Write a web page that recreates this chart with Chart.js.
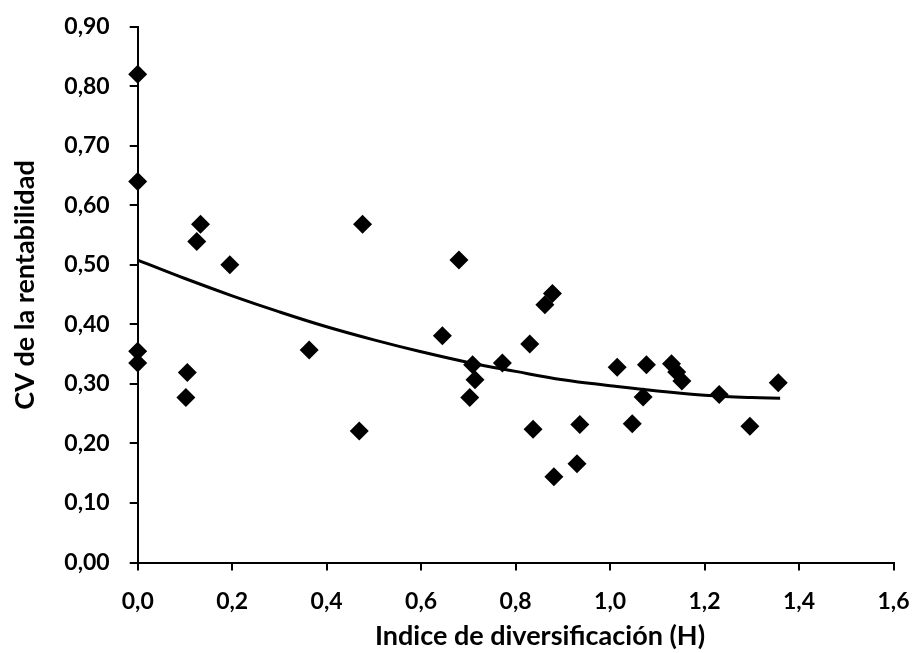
<!DOCTYPE html>
<html>
<head>
<meta charset="utf-8">
<script src="https://cdn.jsdelivr.net/npm/chart.js@4.4.0/dist/chart.umd.min.js"></script>
<style>
  html, body { margin: 0; padding: 0; background: #ffffff; }
  #wrap { width: 913px; height: 653px; position: relative; }
</style>
</head>
<body>
<div id="wrap"><canvas id="c" width="913" height="653"></canvas></div>
<script>
// Scatter observations: diversification index (H) and CV of profitability
const diversificationH = [0.000, 0.000, 0.000, 0.000, 0.105, 0.102, 0.125, 0.133, 0.195, 0.363, 0.469, 0.476,
  0.645, 0.680, 0.703, 0.709, 0.714, 0.772, 0.830, 0.837, 0.862, 0.878, 0.881, 0.930, 0.936,
  1.015, 1.047, 1.070, 1.077, 1.130, 1.141, 1.152, 1.231, 1.296, 1.356];
const cvRentabilidad = [0.820, 0.640, 0.355, 0.335, 0.319, 0.277, 0.539, 0.568, 0.500, 0.357, 0.221, 0.568,
  0.381, 0.508, 0.277, 0.332, 0.307, 0.335, 0.367, 0.224, 0.433, 0.452, 0.144, 0.166, 0.232,
  0.328, 0.233, 0.278, 0.332, 0.334, 0.320, 0.305, 0.282, 0.229, 0.302];

// Trend line
const trendX = [0.00, 0.10, 0.20, 0.30, 0.40, 0.50, 0.60, 0.70, 0.80, 0.90, 1.00, 1.10, 1.20, 1.30, 1.36];
const trendY = [0.508, 0.477, 0.448, 0.421, 0.396, 0.374, 0.354, 0.336, 0.321, 0.307, 0.297, 0.288, 0.281, 0.277, 0.276];

const xTickValues = [0, 0.2, 0.4, 0.6, 0.8, 1.0, 1.2, 1.4, 1.6];
const yTickValues = [0, 0.1, 0.2, 0.3, 0.4, 0.5, 0.6, 0.7, 0.8, 0.9];

const xTitle = 'Indice de diversificación (H)';
const yTitle = 'CV de la rentabilidad';

const FONT = 'Lato, "Open Sans", sans-serif';

const points = diversificationH.map((x, i) => ({ x: x, y: cvRentabilidad[i] }));
const trend = trendX.map((x, i) => ({ x: x, y: trendY[i] }));

// Axis titles placed like the original (slightly off the plot centre)
const axisTitles = {
  id: 'axisTitles',
  afterDraw(chart) {
    const ctx = chart.ctx;
    ctx.save();
    ctx.fillStyle = '#000000';
    ctx.font = 'bold 27px ' + FONT;
    ctx.textAlign = 'center';
    ctx.textBaseline = 'middle';
    ctx.fillText(xTitle, 540, 636);
    ctx.translate(25, 285);
    ctx.rotate(-Math.PI / 2);
    ctx.fillText(yTitle, 0, 0);
    ctx.restore();
  }
};

new Chart(document.getElementById('c'), {
  type: 'scatter',
  data: {
    datasets: [
      {
        label: 'Trend',
        type: 'line',
        data: trend,
        borderColor: '#000000',
        borderWidth: 3,
        pointRadius: 0,
        tension: 0.4,
        fill: false,
        clip: false,
        order: 2
      },
      {
        label: 'CV',
        data: points,
        pointStyle: 'rectRot',
        pointRadius: 9.5,
        pointHoverRadius: 9.5,
        backgroundColor: '#000000',
        borderColor: '#000000',
        borderWidth: 0,
        clip: false,
        order: 1
      }
    ]
  },
  plugins: [axisTitles],
  options: {
    responsive: false,
    animation: false,
    events: [],
    layout: { padding: { left: 0, right: 19.5, top: 26.7, bottom: 0 } },
    plugins: { legend: { display: false }, tooltip: { enabled: false } },
    scales: {
      x: {
        type: 'linear',
        min: 0, max: 1.6,
        afterBuildTicks: (s) => { s.ticks = xTickValues.map(v => ({ value: v })); },
        afterFit: (s) => { s.height = 90.5; s.paddingLeft = 0; s.paddingRight = 0; },
        border: { display: true, color: '#000000', width: 2 },
        grid: { display: true, drawOnChartArea: false, drawTicks: true, tickLength: 8, color: '#000000', lineWidth: 2 },
        ticks: {
          color: '#000000',
          padding: 17,
          font: { family: FONT, size: 23, weight: 'bold' },
          callback: (v) => Number(v).toFixed(1).replace('.', ',')
        },
        title: { display: false }
      },
      y: {
        type: 'linear',
        min: 0, max: 0.9,
        afterBuildTicks: (s) => { s.ticks = yTickValues.map(v => ({ value: v })); },
        afterFit: (s) => { s.width = 137.7; s.paddingTop = 0; s.paddingBottom = 0; },
        border: { display: true, color: '#000000', width: 2 },
        grid: { display: true, drawOnChartArea: false, drawTicks: true, tickLength: 8, color: '#000000', lineWidth: 2 },
        ticks: {
          color: '#000000',
          padding: 20,
          font: { family: FONT, size: 23, weight: 'bold' },
          callback: (v) => Number(v).toFixed(2).replace('.', ',')
        },
        title: { display: false }
      }
    }
  }
});
</script>
</body>
</html>
